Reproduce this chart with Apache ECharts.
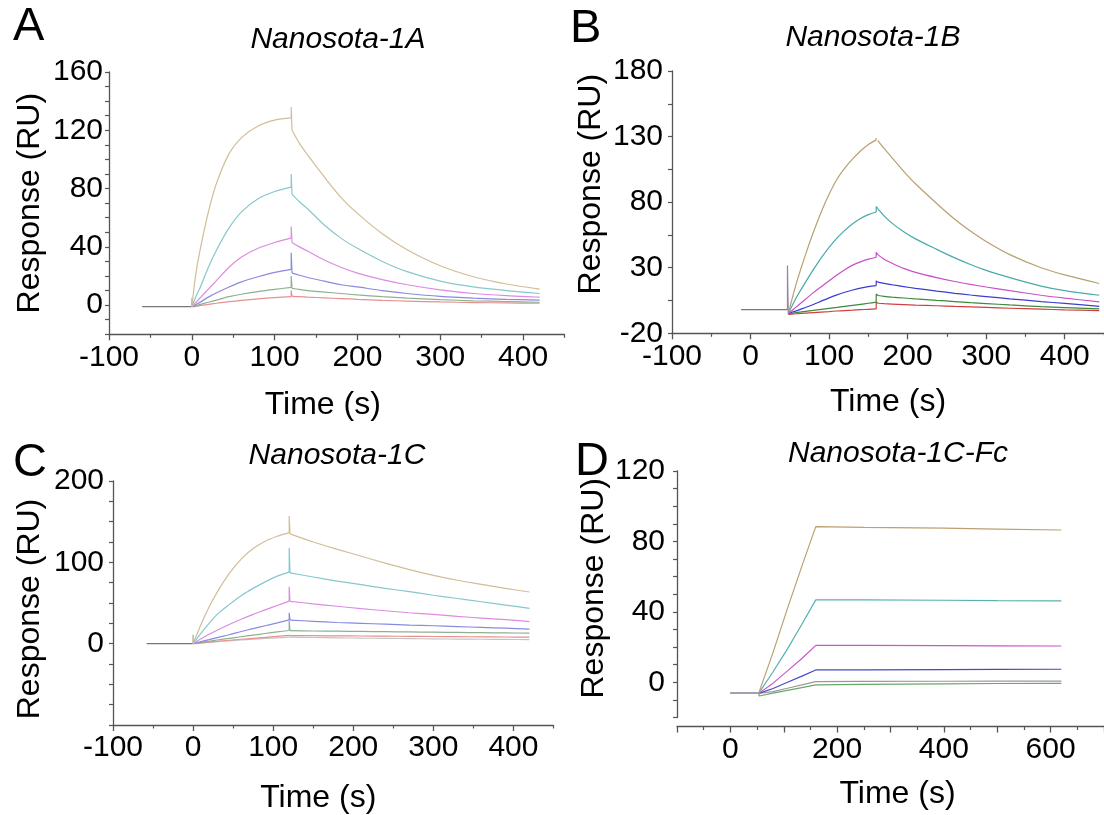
<!DOCTYPE html>
<html><head><meta charset="utf-8">
<script src="https://cdn.jsdelivr.net/npm/echarts@6/dist/echarts.min.js"></script>
<style>html,body{margin:0;padding:0;background:#fff}#c{width:1104px;height:815px}</style>
</head><body><div id="c"></div>
<script>
// Colour order in every panel: tan, cyan, magenta, blue, green, red (+ gray)

// ---------- Panel A: Nanosota-1A ----------
const tA0 = [-60, 0];            // baseline
const aBase = [-1, -1];
const tA1 = [0, 5, 10, 20, 30, 45, 60, 80, 100, 120];   // association
const aTan1 = [-1, 22, 38, 64, 84, 104, 115, 123, 127, 128.5];
const aCyan1 = [-1, 6, 12, 26, 38, 53, 64, 73, 78, 81];
const aMag1 = [-1, 2, 5, 11, 17, 26, 33, 39, 43, 46];
const aBlue1 = [-1, 0.5, 2, 5.5, 8.5, 12.5, 16, 19.5, 22.5, 24.6];
const aGreen1 = [-1, -0.5, 0.5, 2, 3.5, 5.8, 7.5, 9.3, 10.8, 12.2];
const aRed1 = [-1, -0.8, -0.3, 0.6, 1.3, 2.4, 3.3, 4.3, 5.2, 5.9];
const tA2 = [121, 130, 140, 160, 180, 200, 230, 260, 300, 340, 380, 420];   // dissociation
const aTan2 = [120, 111, 103, 88, 74, 63, 49, 38, 27, 19.5, 14.5, 11];
const aCyan2 = [76, 71, 66, 55, 46, 39, 30, 23, 16.5, 12.5, 10, 8];
const aMag2 = [43, 40, 37, 31, 26, 22, 17.5, 14, 10.5, 8, 6.5, 5.5];
const aBlue2 = [22, 20.5, 19, 16.5, 14, 12.5, 10, 8, 6, 4.8, 4, 3.5];
const aGreen2 = [11.5, 10.8, 10, 9, 8, 7, 5.8, 4.8, 3.8, 3, 2.5, 2];
const aRed2 = [6, 5.8, 5.5, 5, 4.5, 4, 3.3, 2.8, 2.2, 1.8, 1.5, 1.3];
const aSpikeTop = [136, 90, 54, 36, 20, 10];       // injection-end spikes (t=120)
const aStartSpike = [5, 3, 2, 1, 0, -1];           // injection-start spikes (t=0)
const aXLabels = [-100, 0, 100, 200, 300, 400];
const aXTicks = [-100, 0, 100, 200, 300, 400];
const aXMinor = [-50, 50, 150, 250, 350, 450];
const aYLabels = [0, 40, 80, 120, 160];
const aYTicks = [-20, -10, 0, 10, 20, 30, 40, 50, 60, 70, 80, 90, 100, 110, 120, 130, 140, 150, 160];

// ---------- Panel B: Nanosota-1B ----------
const tB0 = [-12, 47];
const bBase = [-2, -2];
const bInjSpike = [31.7];           // single spike at t=47
const tB1 = [48, 55, 60, 70, 80, 90, 100, 110, 120, 130, 140, 150, 160];
const bTan1 = [-5, 11, 21.5, 40, 57, 72.5, 86, 97.5, 106, 113, 119, 124, 127.5];
const bCyan1 = [-5, 3.5, 9, 19, 28.5, 37.5, 45.5, 52.5, 58.5, 63.5, 67.5, 70.5, 72.5];
const bMag1 = [-5, -1.5, 1, 6, 11, 15.5, 20, 24.5, 28.5, 32, 34.5, 36.5, 38];
const bBlue1 = [-5, -3.5, -2.5, -0.3, 2, 4.5, 7, 9.3, 11.3, 13, 14.5, 15.6, 16.4];
const bGreen1 = [-5, -4.5, -4.1, -3.3, -2.5, -1.7, -1, -0.3, 0.5, 1.3, 2.1, 2.9, 3.7];
const bRed1 = [-5.5, -5.2, -5, -4.6, -4.2, -3.8, -3.4, -3, -2.7, -2.4, -2, -1.7, -1.4];
const tB2 = [162, 170, 180, 195, 210, 237, 260, 280, 300, 330, 370, 400, 444];
const bTan2 = [127, 121, 114, 103.5, 94, 79, 67, 58, 50, 40, 30, 24.5, 18];
const bCyan2 = [75, 69.5, 64, 57.5, 52, 44, 37.5, 32.5, 28, 22.5, 16, 12.5, 9];
const bMag2 = [40, 36.5, 33.5, 29.5, 26.5, 22.5, 19.5, 17.3, 15.3, 12.5, 9, 6.8, 4];
const bBlue2 = [19, 18, 17, 15.6, 14.3, 12.2, 10.5, 9.2, 8, 6.3, 4.2, 2.8, 0.5];
const bGreen2 = [8.8, 8.2, 7.6, 6.9, 6.2, 5.1, 4.2, 3.4, 2.7, 1.6, 0.3, -0.4, -1.4];
const bRed2 = [2.9, 2.6, 2.3, 1.9, 1.5, 1, 0.5, 0.1, -0.3, -0.9, -1.6, -2.1, -2.7];
const bSpikeTop = [129, 76.6, 41.8, 20, 10, 3.7];
const bXLabels = [-100, 0, 100, 200, 300, 400];
const bXTicks = [-100, 0, 100, 200, 300, 400];
const bXMinor = [-50, 50, 150, 250, 350, 450];
const bYLabels = [-20, 30, 80, 130, 180];
const bYTicks = [-20, 5, 30, 55, 80, 105, 130, 155, 180];

// ---------- Panel C: Nanosota-1C ----------
const tC0 = [-58, 0];
const cBase = [0, 0];
const tC1 = [0, 10, 20, 30, 45, 60, 75, 90, 105, 120];
const cTan1 = [0, 24, 45, 63, 86, 104, 117, 126, 132, 136.5];
const cCyan1 = [0, 13, 25, 36, 48, 59, 68, 76, 83, 88];
const cMag1 = [0, 6, 11.5, 16.5, 23.5, 30, 36, 41.5, 47, 52.3];
const cBlue1 = [0, 2.5, 5, 7.5, 11, 15, 18.5, 22, 25.5, 29.2];
const cGreen1 = [0, 1.5, 3, 4.5, 6.5, 8.5, 10.5, 12.5, 14.5, 16.2];
const cRed1 = [0, 1, 2, 3, 4.2, 5.4, 6.6, 7.7, 9, 10.2];
const cGray1 = [0, 0.8, 1.6, 2.4, 3.5, 4.5, 5.5, 6.4, 7.2, 8];
const tC2 = [121, 150, 180, 210, 240, 270, 300, 330, 360, 390, 420];
const cTan2 = [135, 125, 116, 107.5, 99, 91, 84, 78, 73, 68, 63.5];
const cCyan2 = [87, 82, 77, 72.5, 68, 64, 59.5, 55.5, 51.5, 47.5, 43.5];
const cMag2 = [52, 49, 46, 43, 40.5, 38, 36, 33.5, 31.5, 29.5, 27.2];
const cBlue2 = [29, 27.5, 26, 25, 24, 22.8, 22, 21, 20, 19, 17.8];
const cGreen2 = [16, 15.6, 15.3, 15, 14.7, 14.4, 14.1, 13.8, 13.5, 13.2, 13];
const cRed2 = [10, 9.8, 9.6, 9.4, 9.2, 9, 8.8, 8.6, 8.4, 8.2, 8];
const cGray2 = [8, 7.6, 7.2, 6.8, 6.5, 6.2, 5.9, 5.6, 5.4, 5.2, 5];
const cSpikeTop = [157, 118, 70, 38, 28, 11, 8];
const cStartSpike = [4, 2, 1, 0, 11, 0, 0];
const cXLabels = [-100, 0, 100, 200, 300, 400];
const cXTicks = [-100, 0, 100, 200, 300, 400];
const cXMinor = [-50, 50, 150, 250, 350, 450];
const cYLabels = [0, 100, 200];
const cYTicks = [-100, -75, -50, -25, 0, 25, 50, 75, 100, 125, 150, 175, 200];

// ---------- Panel D: Nanosota-1C-Fc ----------
const tD = [0, 53, 54, 80, 107, 134, 160, 250, 400, 500, 620];
const dTan = [-6.3, -6.3, -7.2, 17, 42, 66, 88.4, 88, 87.5, 87, 86.5];
const dCyan = [-6.3, -6.3, -7.2, 6, 19, 33, 46.8, 46.8, 46.6, 46.4, 46.2];
const dMag = [-6.3, -6.3, -7.2, -0.5, 6.5, 13.5, 21, 21, 20.8, 20.7, 20.6];
const dBlue = [-6.3, -6.3, -7.2, -3.5, 0, 3.5, 7, 7.1, 7.2, 7.3, 7.4];
const dGray = [-6.3, -6.3, -7.2, -5.3, -3.4, -1.5, 0.4, 0.5, 0.6, 0.7, 0.7];
const dGreen = [-6.3, -6.3, -7.8, -6.2, -4.6, -3, -1.5, -1.2, -0.9, -0.7, -0.6];
const dXLabels = [0, 200, 400, 600];
const dXTicks = [-100, 0, 100, 200, 300, 400, 500, 600, 700];
const dXMinor = [-50, 50, 150, 250, 350, 450, 550, 650];
const dYLabels = [0, 40, 80, 120];
const dYTicks = [-20, -10, 0, 10, 20, 30, 40, 50, 60, 70, 80, 90, 100, 110, 120];

// ---------- styling ----------
const FONT = '"Liberation Sans", Arial, Helvetica, sans-serif';
const AX = '#555';
const paleCols = ['#d2bd98', '#86c8cc', '#dc8ce0', '#8a8ae0', '#8fb08f', '#e69090', '#c4c4c4'];
const strongCols = ['#b8a070', '#4aa8ac', '#c850c8', '#3c3cd0', '#3c8a3c', '#d04040'];
const dCols = ['#bca070', '#58b0b0', '#c858c8', '#4848c8', '#999999', '#6aa86a'];

const chart = echarts.init(document.getElementById('c'), null, {renderer: 'canvas'});

const grids = [
  {left: 109, top: 72, width: 455.5, height: 262.3},
  {left: 672, top: 71, width: 436, height: 262.3},
  {left: 113, top: 481, width: 440.5, height: 246},
  {left: 677, top: 471, width: 433, height: 246.5}
];

function xMain(gi, min, max, labels, ticks, namePad, nameGap, offset) {
  return {
    gridIndex: gi, type: 'value', min: min, max: max, position: 'bottom', offset: offset || 0,
    axisLine: {onZero: false, lineStyle: {color: AX, width: 1.3}},
    axisTick: {customValues: ticks, length: 6, lineStyle: {color: AX, width: 1.3}},
    axisLabel: {customValues: labels, color: '#000', fontSize: 30, fontFamily: FONT, margin: 8},
    splitLine: {show: false},
    name: 'Time (s)', nameLocation: 'middle', nameGap: nameGap,
    nameTextStyle: {color: '#000', fontSize: 32, fontFamily: FONT, padding: namePad}
  };
}
function xMinor(gi, min, max, ticks, offset) {
  return {
    gridIndex: gi, type: 'value', min: min, max: max, position: 'bottom', offset: offset || 0,
    axisLine: {show: false, onZero: false},
    axisTick: {customValues: ticks, length: 3.5, lineStyle: {color: AX, width: 1.2}},
    axisLabel: {show: false}, splitLine: {show: false}
  };
}
function yMain(gi, min, max, labels, ticks, margin, namePad, nameGap) {
  return {
    gridIndex: gi, type: 'value', min: min, max: max, position: 'left',
    axisLine: {show: true, onZero: false, lineStyle: {color: AX, width: 1.3}},
    axisTick: {show: true, customValues: ticks, length: 4, lineStyle: {color: AX, width: 1.2}},
    axisLabel: {customValues: labels, color: '#000', fontSize: 30, fontFamily: FONT, margin: margin},
    splitLine: {show: false},
    name: 'Response (RU)', nameLocation: 'middle', nameGap: nameGap,
    nameTextStyle: {color: '#000', fontSize: 32, fontFamily: FONT, padding: namePad}
  };
}

const xAxes = [
  xMain(0, -100, 450, aXLabels, aXTicks, [0, 28, 0, 0], 55), xMinor(0, -100, 450, aXMinor),
  xMain(1, -100, 450, bXLabels, bXTicks, [0, 0, 0, 0], 53), xMinor(1, -100, 450, bXMinor),
  xMain(2, -100, 450, cXLabels, cXTicks, [0, 30, 0, 0], 57), xMinor(2, -100, 450, cXMinor),
  xMain(3, -100, 700, dXLabels, dXTicks, [0, 0, 0, 14], 52, 9), xMinor(3, -100, 700, dXMinor, 9)
];
const yAxes = [
  yMain(0, -20, 160, aYLabels, aYTicks, 6, [0, 0, 0, 0], 63),
  yMain(1, -20, 180, bYLabels, bYTicks, 9, [0, 0, 0, 36], 65),
  yMain(2, -100, 200, cYLabels, cYTicks, 9, [0, 12, 0, 0], 67),
  yMain(3, -20, 120, dYLabels, dYTicks, 12, [0, 0, 0, 12], 67)
];

function pairs(t, v) { return t.map((x, i) => [x, v[i]]); }
const series = [];
function line(data, xi, yi, color, smooth) {
  series.push({
    type: 'line', xAxisIndex: xi, yAxisIndex: yi, data: data,
    showSymbol: false, symbol: 'none', smooth: smooth || false,
    animation: false, silent: true, lineStyle: {color: color, width: 1.2}
  });
}
// one sensorgram panel: baseline, start spikes, association, end spike, dissociation
function panel(xi, yi, cols, t0, base, t1, assoc, t2, dissoc, spikeTop, startSpike) {
  line(pairs(t0, base), xi, yi, '#777');
  for (let k = assoc.length - 1; k >= 0; k--) {
    const c = cols[k];
    if (startSpike && startSpike[k] > assoc[k][0]) {
      line([[t1[0], assoc[k][0]], [t1[0], startSpike[k]]], xi, yi, c);
    }
    line(pairs(t1, assoc[k]), xi, yi, c, 0.3);
    const n = t1.length - 1;
    line([[t1[n], assoc[k][n]], [t1[n], spikeTop[k]], [t2[0], dissoc[k][0]]], xi, yi, c);
    line(pairs(t2, dissoc[k]), xi, yi, c, 0.3);
  }
}

panel(0, 0, paleCols, tA0, aBase, tA1,
  [aTan1, aCyan1, aMag1, aBlue1, aGreen1, aRed1], tA2,
  [aTan2, aCyan2, aMag2, aBlue2, aGreen2, aRed2], aSpikeTop, aStartSpike);

panel(2, 1, strongCols, tB0, bBase, tB1,
  [bTan1, bCyan1, bMag1, bBlue1, bGreen1, bRed1], tB2,
  [bTan2, bCyan2, bMag2, bBlue2, bGreen2, bRed2], bSpikeTop, null);
// injection artefact spike at t=47 (B)
line([[tB0[1], bBase[1]], [tB0[1], bInjSpike[0]], [tB1[0], bMag1[0]]], 2, 1, '#9a80a8');

panel(4, 2, paleCols, tC0, cBase, tC1,
  [cTan1, cCyan1, cMag1, cBlue1, cGreen1, cRed1, cGray1], tC2,
  [cTan2, cCyan2, cMag2, cBlue2, cGreen2, cRed2, cGray2], cSpikeTop, cStartSpike);

// D (piecewise straight)
[dGreen, dGray, dBlue, dMag, dCyan, dTan].forEach((v, i) => {
  line(pairs(tD, v), 6, 3, [dCols[5], dCols[4], dCols[3], dCols[2], dCols[1], dCols[0]][i]);
});

function txt(text, x, y, font, align) {
  return {type: 'text', x: x, y: y, silent: true,
    style: {text: text, font: font, fill: '#000', align: align || 'left', verticalAlign: 'middle'}};
}
const letterFont = '47px ' + FONT;
const titleFont = 'italic 30px ' + FONT;

chart.setOption({
  animation: false,
  backgroundColor: '#fff',
  grid: grids,
  xAxis: xAxes,
  yAxis: yAxes,
  series: series,
  graphic: [
    txt('A', 13, 27, letterFont), txt('B', 570, 29, letterFont),
    txt('C', 13, 463, letterFont), txt('D', 575, 462, letterFont),
    txt('Nanosota-1A', 338, 40, titleFont, 'center'),
    txt('Nanosota-1B', 873, 38, titleFont, 'center'),
    txt('Nanosota-1C', 337, 456, titleFont, 'center'),
    txt('Nanosota-1C-Fc', 898, 454, titleFont, 'center')
  ]
});
</script></body></html>
